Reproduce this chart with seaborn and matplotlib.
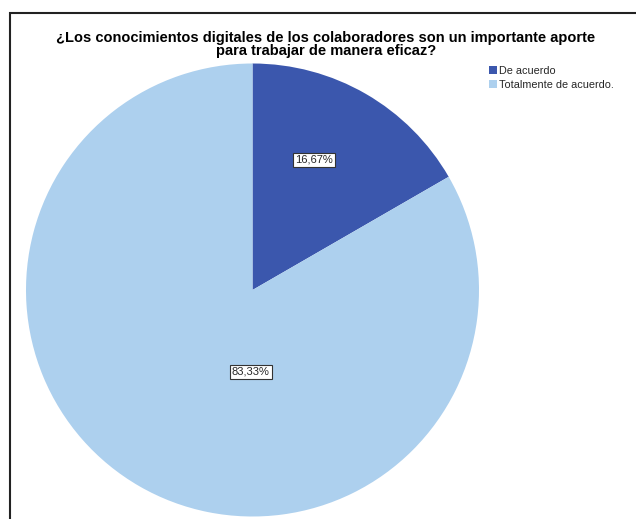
import matplotlib
matplotlib.use("Agg")
import matplotlib.pyplot as plt
import seaborn as sns
from matplotlib.patches import Rectangle, Patch

sns.set_theme(style="white")
plt.rcParams['font.family'] = ['Liberation Sans', 'DejaVu Sans']

# data
categories = ['De acuerdo', 'Totalmente de acuerdo.']
values = [16.67, 83.33]
pct_labels = ['16,67%', '83,33%']
colors = ['#3B57AD', '#ADD0EE']
title = ('¿Los conocimientos digitales de los colaboradores son un importante aporte\n'
         'para trabajar de manera eficaz?')

W, H = 636, 519
fig = plt.figure(figsize=(W / 100, H / 100), dpi=100)

# outer frame (cut off on right and bottom like the reference)
fig.patches.append(Rectangle((10 / W, -0.05), 1.2, 1 - 13 / H + 0.05,
                             transform=fig.transFigure, fill=False,
                             edgecolor='#222222', linewidth=1.5))

fig.text(326 / W, 1 - 31 / H, title, ha='center', va='top', fontsize=10.5,
         fontweight='bold', color='black', linespacing=0.93)

# pie
r = 226.5
cx, cy = 252.5, 290
ax = fig.add_axes([(cx - r) / W, 1 - (cy + r) / H, 2 * r / W, 2 * r / H])
wedges, _ = ax.pie(values, colors=colors, startangle=90, counterclock=False,
                   radius=1, wedgeprops=dict(linewidth=0))
ax.set_xlim(-1, 1)
ax.set_ylim(-1, 1)
ax.set_aspect('equal')
ax.axis('off')

label_pos = [(0.27, 0.574), (-0.007, -0.36)]
for (x, y), lab in zip(label_pos, pct_labels):
    ax.text(x, y, lab, ha='center', va='center', fontsize=8,
            bbox=dict(boxstyle='square,pad=0.18', facecolor='white',
                      edgecolor='#333333', linewidth=0.8))

handles = [Patch(facecolor=c, edgecolor='none', label=l) for c, l in zip(colors, categories)]
fig.legend(handles=handles, loc='upper left', bbox_to_anchor=(489 / W, 1 - 66 / H),
           frameon=False, fontsize=7.8, handlelength=0.75, handleheight=0.75,
           handletextpad=0.2, labelspacing=0.35, borderpad=0, borderaxespad=0)

fig.savefig('out.png', dpi=100)
